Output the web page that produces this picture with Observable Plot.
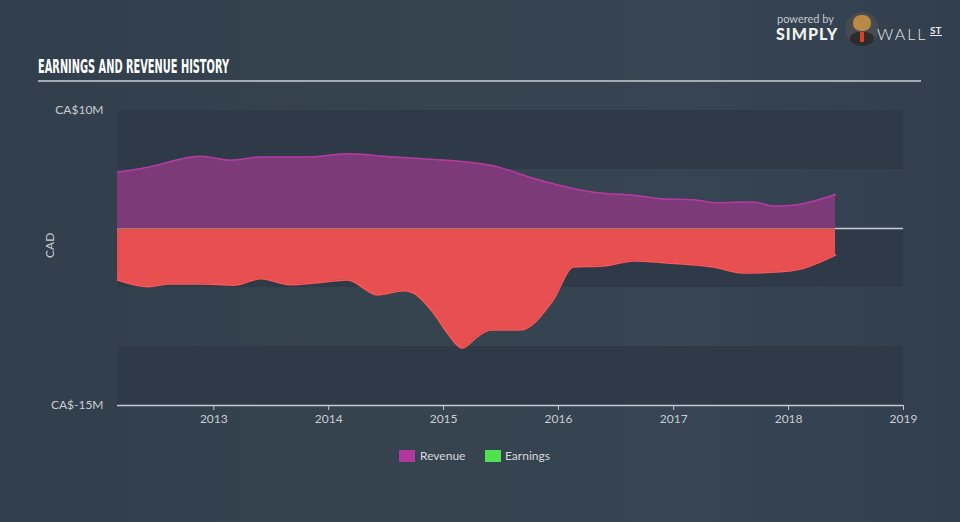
<!DOCTYPE html>
<html>
<head>
<meta charset="utf-8">
<script src="https://cdn.jsdelivr.net/npm/d3@7"></script>
<script src="https://cdn.jsdelivr.net/npm/@observablehq/plot@0.6"></script>
<style>
  html, body { margin: 0; padding: 0; }
  body { width: 960px; height: 522px; overflow: hidden; position: relative;
         background: linear-gradient(to right, #313e4c 0%, #36444f 45%, #364453 70%, #323f4e 100%);
         font-family: "Open Sans", "Lato", sans-serif; }
  #chart { position: absolute; left: 0; top: 0; }
  #title { position: absolute; left: 38px; top: 54px; color: #ffffff; font-family: "Liberation Sans Narrow", "DejaVu Sans Condensed", sans-serif;
           font-weight: bold; font-size: 20px; line-height: 24px; transform-origin: left center; white-space: nowrap; letter-spacing: 0px; }
  #rule { position: absolute; left: 38px; top: 80px; width: 883px; height: 2px; background: #a3abb5; }
  #legend { position: absolute; top: 447px; left: 0; width: 960px; height: 18px; font-size: 12px; color: #d6d9dd; font-family: "Lato", "Open Sans", sans-serif; }
  .sw { position: absolute; top: 3px; width: 16px; height: 12px; }
  .lt { position: absolute; top: 1px; }
  #logo { position: absolute; left: 776px; top: 8px; width: 180px; height: 44px; color: #fff; font-family: "Lato", "Open Sans", sans-serif; }
  #pb { position: absolute; left: 1px; top: 4px; font-size: 11px; color: #c4c8cd; }
  #simply { position: absolute; left: 0; top: 16px; font-size: 16px; font-weight: 900; letter-spacing: 1px; color: #f2f2f2; }
  #bull { position: absolute; left: 69px; top: 4px; width: 34px; height: 34px; border-radius: 50%; background: #474a4e; overflow: hidden; }
  #face { position: absolute; left: 8px; top: 3px; width: 18px; height: 16px; border-radius: 45%; background: #b98a45; }
  #suit { position: absolute; left: 5px; top: 20px; width: 24px; height: 16px; border-radius: 40% 40% 0 0; background: #2c2c2c; }
  #tie { position: absolute; left: 15px; top: 20px; width: 4px; height: 10px; background: #d9412b; }
  #wall { position: absolute; left: 101px; top: 16px; font-size: 16px; font-weight: 300; letter-spacing: 2px; color: #e8e8e8; }
  #st { position: absolute; left: 154px; top: 17px; font-size: 10px; font-weight: 700; color: #e8e8e8; border-bottom: 1.5px solid #e8e8e8; line-height: 10px; }
</style>
</head>
<body>
<div id="chart"></div>
<div id="title">EARNINGS AND REVENUE HISTORY</div>
<div id="rule"></div>
<div id="legend">
  <div class="sw" style="left:399px;background:#b0389e"></div><div class="lt" style="left:420px">Revenue</div>
  <div class="sw" style="left:485px;background:#4fe04f"></div><div class="lt" style="left:505px">Earnings</div>
</div>
<div id="logo">
  <div id="pb">powered by</div>
  <div id="simply">SIMPLY</div>
  <div id="bull"><div id="face"></div><div id="suit"></div><div id="tie"></div></div>
  <div id="wall">WALL</div>
  <div id="st">ST</div>
</div>
<script>
// ---- data (CA$ millions) ----
const revenueDates = ["2012-03-01","2012-06-06","2012-11-20","2013-02-25","2013-05-30","2013-10-25","2014-03-01","2014-07-25","2014-11-30","2015-03-17","2015-05-30","2015-07-01","2015-10-12","2016-05-14","2016-08-26","2016-11-20","2017-03-05","2017-05-20","2017-09-11","2017-11-13","2017-12-28","2018-05-30"];
const revenueValues = [4.77, 5.2, 6.13, 5.79, 6.06, 6.06, 6.33, 6.06, 5.85, 5.64, 5.36, 5.16, 4.26, 3.0, 2.82, 2.53, 2.44, 2.19, 2.24, 1.9, 1.93, 2.88];
const earningsDates = ["2012-03-01","2012-06-06","2012-08-15","2012-11-20","2013-03-05","2013-05-30","2013-09-01","2013-11-26","2014-03-01","2014-06-05","2014-08-26","2014-09-27","2014-11-30","2015-01-13","2015-03-01","2015-04-17","2015-05-30","2015-09-01","2015-12-15","2016-02-17","2016-05-23","2016-08-26","2016-12-12","2017-05-08","2017-08-10","2017-11-25","2018-02-08","2018-05-30"];
const earningsValues = [-4.36, -4.93, -4.7, -4.7, -4.81, -4.26, -4.77, -4.6, -4.36, -5.63, -5.27, -5.47, -7.16, -8.86, -10.13, -9.2, -8.6, -8.6, -6.06, -3.26, -3.18, -2.75, -2.92, -3.26, -3.77, -3.69, -3.43, -2.25];
const yearTicks = ["2013","2014","2015","2016","2017","2018","2019"];
const yTickValues = [10, -15];
const yTickLabels = ["CA$10M", "CA$-15M"];
const bandRanges = [[10, 5], [0, -5], [-10, -15]];
const xStart = "2012-03-01";
const xEnd = "2019-01-01";

const revenue = revenueDates.map((d, i) => ({date: new Date(d), value: revenueValues[i]}));
const earnings = earningsDates.map((d, i) => ({date: new Date(d), value: earningsValues[i]}));
const bands = bandRanges.map(([a, b]) => ({y1: a, y2: b}));
const x0 = new Date(xStart), x1 = new Date(xEnd);
const ticks = yearTicks.map(y => new Date(y + "-01-01"));

const chart = Plot.plot({
  width: 960,
  height: 522,
  marginLeft: 117,
  marginRight: 57,
  marginTop: 110,
  marginBottom: 117,
  style: {background: "transparent", color: "#c9cdd2", fontFamily: "Lato, 'Open Sans', sans-serif", fontSize: "12px"},
  x: {type: "utc", domain: [x0, x1]},
  y: {domain: [-15, 10]},
  marks: [
    Plot.rect(bands, {x1: () => x0, x2: () => x1, y1: "y1", y2: "y2", fill: "#2e3a48"}),
    Plot.ruleY([0], {x1: x0, x2: x1, stroke: "#c9ccd1", strokeWidth: 1.5}),
    Plot.areaY(revenue, {x: "date", y: "value", curve: "monotone-x", fill: "#7c3a78"}),
    Plot.lineY(revenue, {x: "date", y: "value", curve: "monotone-x", stroke: "#b53ba2", strokeWidth: 1.5}),
    Plot.areaY(earnings, {x: "date", y: "value", curve: "monotone-x", fill: "#e84f51"}),
    Plot.lineY(earnings, {x: "date", y: "value", curve: "monotone-x", stroke: "#ff5656", strokeWidth: 1.5}),
    Plot.ruleY([0], {x1: revenue[0].date, x2: revenue[revenue.length - 1].date, stroke: "#9a7a6a", strokeWidth: 1.2}),
    Plot.ruleY([-15], {x1: x0, x2: x1, stroke: "#c3cad2", strokeWidth: 1.5}),
    Plot.axisX({ticks: ticks, tickFormat: "%Y", tickSize: 5, tickPadding: 4, label: null, stroke: "#c3cad2"}),
    Plot.axisY({ticks: yTickValues, tickFormat: d => yTickLabels[yTickValues.indexOf(d)], tickSize: 0, tickPadding: 14, label: null}),
    Plot.text(["CAD"], {frameAnchor: "left", dx: -67, rotate: -90, fill: "#c9cdd2", fontSize: 12})
  ]
});
document.getElementById("chart").appendChild(chart);

// fit the condensed title to its reference width
const t = document.getElementById("title");
const w = t.getBoundingClientRect().width;
t.style.transform = `scaleX(${191 / w})`;
</script>
</body>
</html>
